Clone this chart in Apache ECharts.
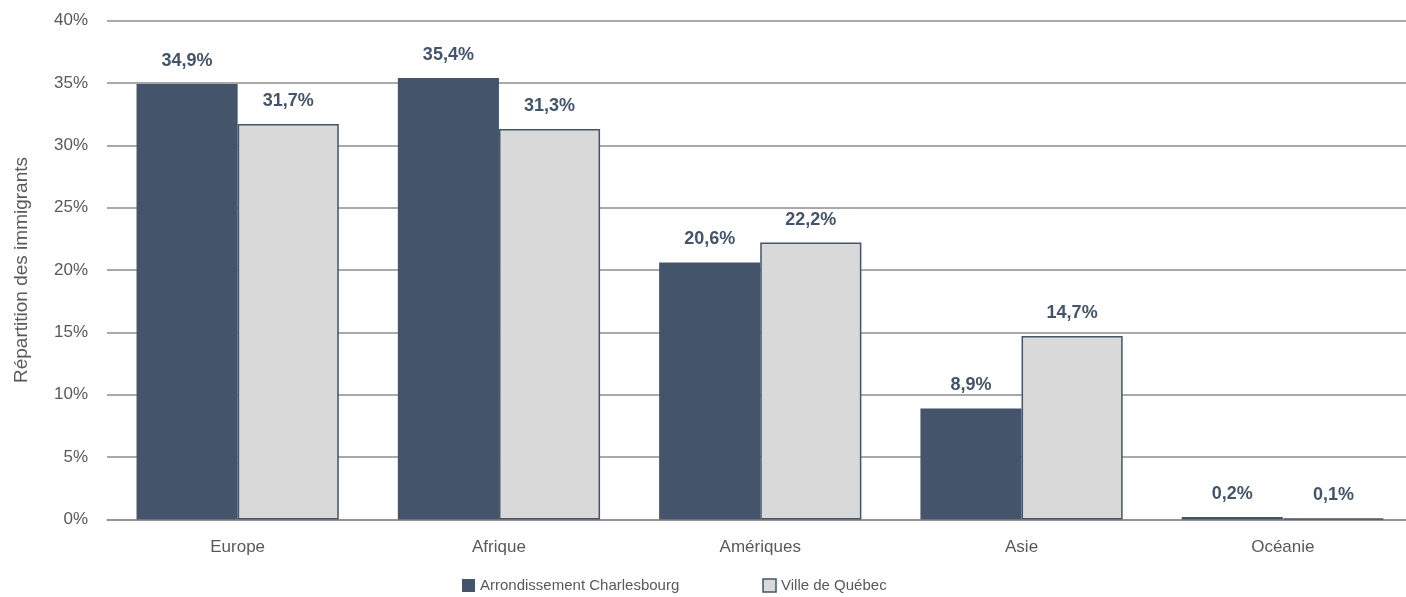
<!DOCTYPE html>
<html><head><meta charset="utf-8">
<script src="https://cdn.jsdelivr.net/npm/echarts@6/dist/echarts.min.js"></script>
<style>html,body{margin:0;padding:0;background:#fff;overflow:hidden}#c{width:1414px;height:597px}</style>
</head><body><div id="c"></div>
<script>
const categories = ['Europe', 'Afrique', 'Amériques', 'Asie', 'Océanie'];
const charlesbourg = [34.9, 35.4, 20.6, 8.9, 0.2];
const quebec = [31.7, 31.3, 22.2, 14.7, 0.1];
const seriesNames = ['Arrondissement Charlesbourg', 'Ville de Québec'];
const yTicks = [0, 5, 10, 15, 20, 25, 30, 35, 40];

const FONT = '"Liberation Sans", "Noto Sans", sans-serif';
const DARK = '#44546A';
const fmt = v => v.toFixed(1).replace('.', ',') + '%';
const chart = echarts.init(document.getElementById('c'));
chart.setOption({
  animation: false,
  textStyle: { fontFamily: FONT },
  grid: { left: 107, top: 20.5, right: 0.5, height: 499 },
  legend: {
    top: 573, left: 457, itemGap: 83, itemWidth: 13, itemHeight: 13,
    textStyle: { fontFamily: FONT, fontSize: 15, color: '#595959' },
    data: [
      { name: seriesNames[0], icon: 'rect', itemStyle: { color: DARK, borderWidth: 0 } },
      { name: seriesNames[1], icon: 'rect', itemStyle: { color: '#D9D9D9', borderColor: DARK, borderWidth: 1.5 } }
    ]
  },
  xAxis: {
    type: 'category', data: categories,
    axisTick: { show: false },
    axisLine: { lineStyle: { color: '#8c8c8c', width: 1.5 } },
    axisLabel: { fontSize: 17, color: '#595959', margin: 19, fontFamily: FONT }
  },
  yAxis: {
    type: 'value', min: yTicks[0], max: yTicks[yTicks.length - 1], interval: 5,
    name: 'Répartition des immigrants', nameLocation: 'middle', nameGap: 76,
    nameTextStyle: { fontSize: 19, color: '#595959', fontFamily: FONT },
    axisLabel: { formatter: v => v + '%', fontSize: 17, color: '#595959', margin: 19, fontFamily: FONT },
    splitLine: { lineStyle: { color: '#8c8c8c', width: 1.5 } },
    axisLine: { show: false }, axisTick: { show: false }
  },
  series: [
    {
      name: seriesNames[0], type: 'bar', data: charlesbourg,
      barGap: '0%', barCategoryGap: '22.6%',
      itemStyle: { color: DARK },
      label: { show: true, position: 'top', distance: 14, formatter: p => fmt(p.value),
        fontSize: 18, fontWeight: 'bold', color: DARK, fontFamily: FONT }
    },
    {
      name: seriesNames[1], type: 'bar', data: quebec,
      barGap: '0%', barCategoryGap: '22.6%',
      itemStyle: { color: '#D9D9D9', borderColor: DARK, borderWidth: 1.5 },
      label: { show: true, position: 'top', distance: 14, formatter: p => fmt(p.value),
        fontSize: 18, fontWeight: 'bold', color: DARK, fontFamily: FONT }
    }
  ]
});
</script></body></html>
